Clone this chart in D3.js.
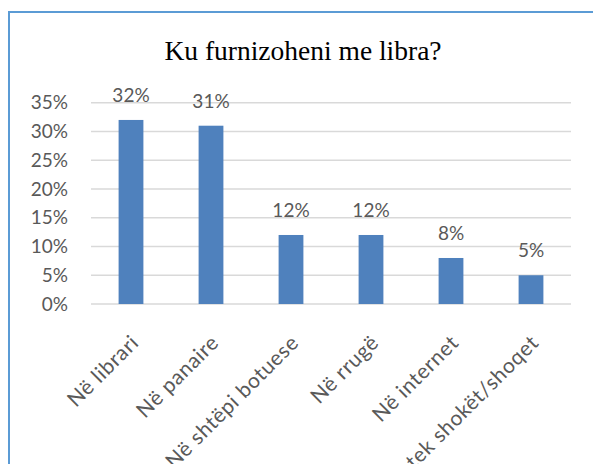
<!DOCTYPE html>
<html>
<head>
<meta charset="utf-8">
<script src="https://cdn.jsdelivr.net/npm/d3@7"></script>
<style>
  body { margin: 0; background: #fff; }
  text { font-family: Lato, "Open Sans", sans-serif; }
</style>
</head>
<body>
<div id="chart"></div>
<script>
  // chart data
  const categories = ["Në librari", "Në panaire", "Në shtëpi botuese", "Në rrugë", "Në internet", "Huazojmë tek shokët/shoqet"];
  const values = [0.32, 0.31, 0.12, 0.12, 0.08, 0.05];
  const yTicks = [0, 0.05, 0.10, 0.15, 0.20, 0.25, 0.30, 0.35];
  const title = "Ku furnizoheni me libra?";

  const width = 593;
  const height = 464;

  const svg = d3.select("#chart")
    .append("svg")
    .attr("width", width)
    .attr("height", height);

  // outer frame (only left and top edges fall inside the picture)
  svg.append("rect")
    .attr("x", 9)
    .attr("y", 12)
    .attr("width", 700)
    .attr("height", 600)
    .attr("fill", "none")
    .attr("stroke", "#5b9bd5")
    .attr("stroke-width", 2);

  // scales
  const x = d3.scaleBand()
    .domain(categories)
    .range([91, 571])
    .paddingInner(0.69)
    .paddingOuter(0.345);

  const y = d3.scaleLinear()
    .domain([0, 0.35])
    .range([304, 102.7]);

  // title
  svg.append("text")
    .attr("x", 303)
    .attr("y", 60)
    .attr("text-anchor", "middle")
    .style("font-family", "'Liberation Serif', serif")
    .style("font-size", "27.5px")
    .attr("fill", "#000")
    .text(title);

  // gridlines
  svg.append("g")
    .selectAll("line")
    .data(yTicks)
    .enter().append("line")
      .attr("x1", 91)
      .attr("x2", 571)
      .attr("y1", d => y(d))
      .attr("y2", d => y(d))
      .attr("stroke", "#d9d9d9")
      .attr("stroke-width", 1.5);

  // y axis labels
  const yAxis = svg.append("g")
    .attr("transform", "translate(76,0)")
    .call(d3.axisLeft(y).tickValues(yTicks).tickFormat(d3.format(".0%")).tickSize(0).tickPadding(8));
  yAxis.select(".domain").remove();
  yAxis.selectAll("text")
    .attr("fill", "#595959")
    .style("font-size", "19px");

  // bars
  svg.append("g")
    .selectAll("rect")
    .data(values)
    .enter().append("rect")
      .attr("x", (d, i) => x(categories[i]))
      .attr("y", d => y(d))
      .attr("width", x.bandwidth())
      .attr("height", d => y(0) - y(d))
      .attr("fill", "#4f81bd");

  // data labels
  svg.append("g")
    .selectAll("text")
    .data(values)
    .enter().append("text")
      .attr("x", (d, i) => x(categories[i]) + x.bandwidth() / 2)
      .attr("y", d => y(d) - 18)
      .attr("text-anchor", "middle")
      .attr("fill", "#595959")
      .style("font-size", "19px")
      .text(d => d3.format(".0%")(d));

  // x axis labels, rotated
  const xAxis = svg.append("g")
    .attr("transform", "translate(0,304)")
    .call(d3.axisBottom(x).tickSize(0).tickPadding(0));
  xAxis.select(".domain").remove();
  xAxis.selectAll("text")
    .attr("fill", "#595959")
    .style("font-size", "21px")
    .style("letter-spacing", "0.6px")
    .attr("text-anchor", "end")
    .attr("dy", null)
    .attr("y", 0)
    .attr("transform", "translate(9,40) rotate(-45)");
</script>
</body>
</html>
